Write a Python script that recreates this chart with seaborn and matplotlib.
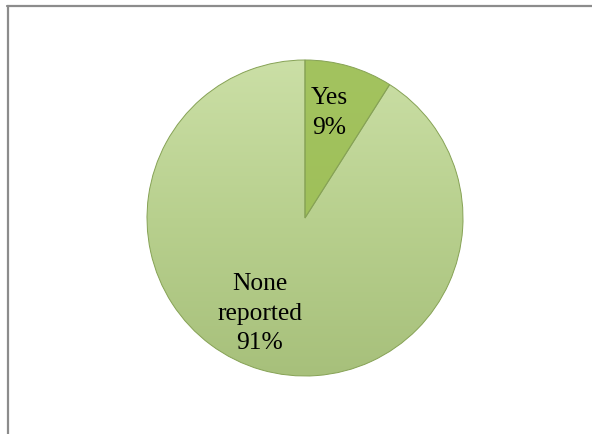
import numpy as np
import matplotlib
matplotlib.use("Agg")
import matplotlib.pyplot as plt
import seaborn as sns
from matplotlib.colors import LinearSegmentedColormap
from matplotlib.lines import Line2D

categories = ["Yes", "None reported"]
values = [9, 91]
labels = ["Yes\n9%", "None\nreported\n91%"]

sns.set_theme(style="white")
plt.rcParams['font.family'] = ['Liberation Serif', 'DejaVu Serif']

fig = plt.figure(figsize=(5.92, 4.35), dpi=100)
fig.patch.set_facecolor("white")

# frame (only top and left edges visible in the image)
fig.add_artist(Line2D([7.5/592, 7.5/592], [0, 1 - 7/435], transform=fig.transFigure,
                      color="#8c8c8c", lw=1.6))
fig.add_artist(Line2D([7/592, 1], [1 - 7/435, 1 - 7/435], transform=fig.transFigure,
                      color="#8c8c8c", lw=1.6))

ax = fig.add_axes([147/592, (435-377)/435, 316/592, 316/435])
base_colors = ["#98b954", "#bcd393"]
wedges, _ = ax.pie(values, startangle=90, counterclock=False, colors=base_colors,
                   wedgeprops=dict(edgecolor="#86a255", linewidth=0.7))
ax.set_xlim(-1.0, 1.0)
ax.set_ylim(-1.0, 1.0)
ax.set_aspect("equal")
ax.axis("off")

# vertical gradients clipped to each wedge
grads = [
    LinearSegmentedColormap.from_list("g0", ["#8bab45", "#9fc05a", "#a3c35f"]),
    LinearSegmentedColormap.from_list("g1", ["#a7c07b", "#b8d08e", "#cbdfa6"]),
]
yy = np.linspace(0, 1, 256).reshape(-1, 1)
for w, cm in zip(wedges, grads):
    im = ax.imshow(yy, cmap=cm, extent=[-1, 1, -1, 1], origin="lower",
                   aspect="auto", zorder=w.get_zorder() + 0.1)
    im.set_clip_path(w)

for w in wedges:
    w.set_zorder(3)
    w.set_facecolor("none")

ax.text(0.152, 0.67, labels[0], ha="center", va="center", fontsize=18.4,
        color="black", linespacing=1.45, zorder=5)
ax.text(-0.285, -0.60, labels[1], ha="center", va="center", fontsize=18.4,
        color="black", linespacing=1.45, zorder=5)

fig.savefig("out.png", dpi=100, facecolor="white")
